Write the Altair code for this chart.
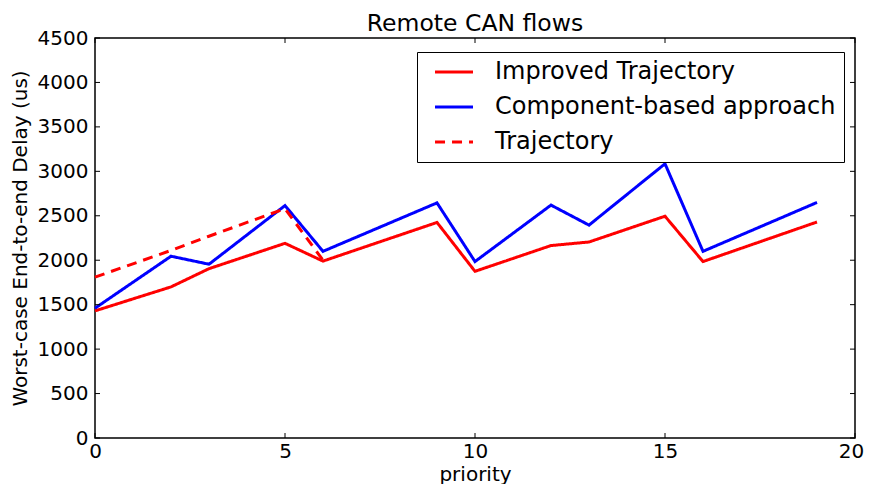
import altair as alt
import pandas as pd

priority = [0, 2, 3, 5, 6, 9, 10, 12, 13, 15, 16, 19]
improved = [1430, 1700, 1905, 2190, 1990, 2425, 1875, 2165, 2205, 2495, 1985, 2430]
component = [1460, 2045, 1955, 2615, 2100, 2645, 1985, 2620, 2395, 3085, 2100, 2650]
traj_priority = [0, 2, 3, 5, 6]
trajectory = [1810, 2110, 2270, 2580, 2000]

series_names = ["Improved Trajectory", "Component-based approach", "Trajectory"]
series_colors = ["#ff0000", "#0000ff", "#ff0000"]
series_dash = [[1, 0], [1, 0], [10, 7]]

x_ticks = [0, 5, 10, 15, 20]
y_ticks = [0, 500, 1000, 1500, 2000, 2500, 3000, 3500, 4000, 4500]

rows = []
for p, v in zip(priority, improved):
    rows.append({"priority": p, "delay": v, "series": series_names[0]})
for p, v in zip(priority, component):
    rows.append({"priority": p, "delay": v, "series": series_names[1]})
for p, v in zip(traj_priority, trajectory):
    rows.append({"priority": p, "delay": v, "series": series_names[2]})
df = pd.DataFrame(rows)

FONT = "DejaVu Sans"
xscale = alt.Scale(domain=[0, 20], nice=False)
yscale = alt.Scale(domain=[0, 4500], nice=False)

legend = alt.Legend(
    title=None, orient="none", legendX=322, legendY=14,
    symbolType="M-0.22,0H4", symbolSize=324, symbolStrokeWidth=3,
    labelFontSize=24, labelFont=FONT, labelColor="black", labelOffset=46,
    rowPadding=11, padding=8, strokeColor="black", fillColor="white",
    cornerRadius=0, labelLimit=500,
)

lines = alt.Chart(df).mark_line(strokeWidth=3).encode(
    x=alt.X("priority:Q", scale=xscale, title="priority",
            axis=alt.Axis(values=x_ticks, tickSize=0, domain=False, grid=False,
                          format="d", labelFlush=False,
                          labelOffset={"condition": {"test": "datum.value == 20", "value": -4},
                                       "value": 0},
                          labelFontSize=20, labelFont=FONT, labelColor="black",
                          labelPadding=3, titleFontSize=20, titleFont=FONT,
                          titleFontWeight="normal", titleColor="black",
                          titleY=42, titleBaseline="alphabetic")),
    y=alt.Y("delay:Q", scale=yscale, title="Worst-case End-to-end Delay (us)",
            axis=alt.Axis(values=y_ticks, tickSize=0, domain=False, grid=False,
                          format="d", labelFlush=False,
                          labelFontSize=20, labelFont=FONT, labelColor="black",
                          labelPadding=7, titleFontSize=20, titleFont=FONT,
                          titleFontWeight="normal", titleColor="black",
                          titleX=-75, titleY=200, titleBaseline="middle",
                          titleAlign="center")),
    color=alt.Color("series:N", scale=alt.Scale(domain=series_names, range=series_colors),
                    legend=legend),
    strokeDash=alt.StrokeDash("series:N", scale=alt.Scale(domain=series_names, range=series_dash),
                              legend=legend),
)

xt = pd.DataFrame({"t": x_ticks})
yt = pd.DataFrame({"t": y_ticks})
xb = alt.Chart(xt).mark_rule(color="black", strokeWidth=1).encode(
    x=alt.X("t:Q", scale=xscale), y=alt.value(400), y2=alt.value(395))
xtop = alt.Chart(xt).mark_rule(color="black", strokeWidth=1).encode(
    x=alt.X("t:Q", scale=xscale), y=alt.value(0), y2=alt.value(5))
yl = alt.Chart(yt).mark_rule(color="black", strokeWidth=1).encode(
    y=alt.Y("t:Q", scale=yscale), x=alt.value(0), x2=alt.value(5))
yr = alt.Chart(yt).mark_rule(color="black", strokeWidth=1).encode(
    y=alt.Y("t:Q", scale=yscale), x=alt.value(760), x2=alt.value(755))

chart = alt.layer(lines, xb, xtop, yl, yr).properties(
    width=760, height=400,
    title=alt.Title("Remote CAN flows", fontSize=23.5, font=FONT, fontWeight="normal",
                    color="black", offset=-7),
    autosize=alt.AutoSizeParams(type="none"),
    padding={"left": 87, "top": 30, "right": 9, "bottom": 46},
).configure_view(stroke="black", strokeWidth=1.5).configure_axis(
    labelFont=FONT, titleFont=FONT)

chart.save("out.html", embed_options={"renderer": "svg", "actions": False})
